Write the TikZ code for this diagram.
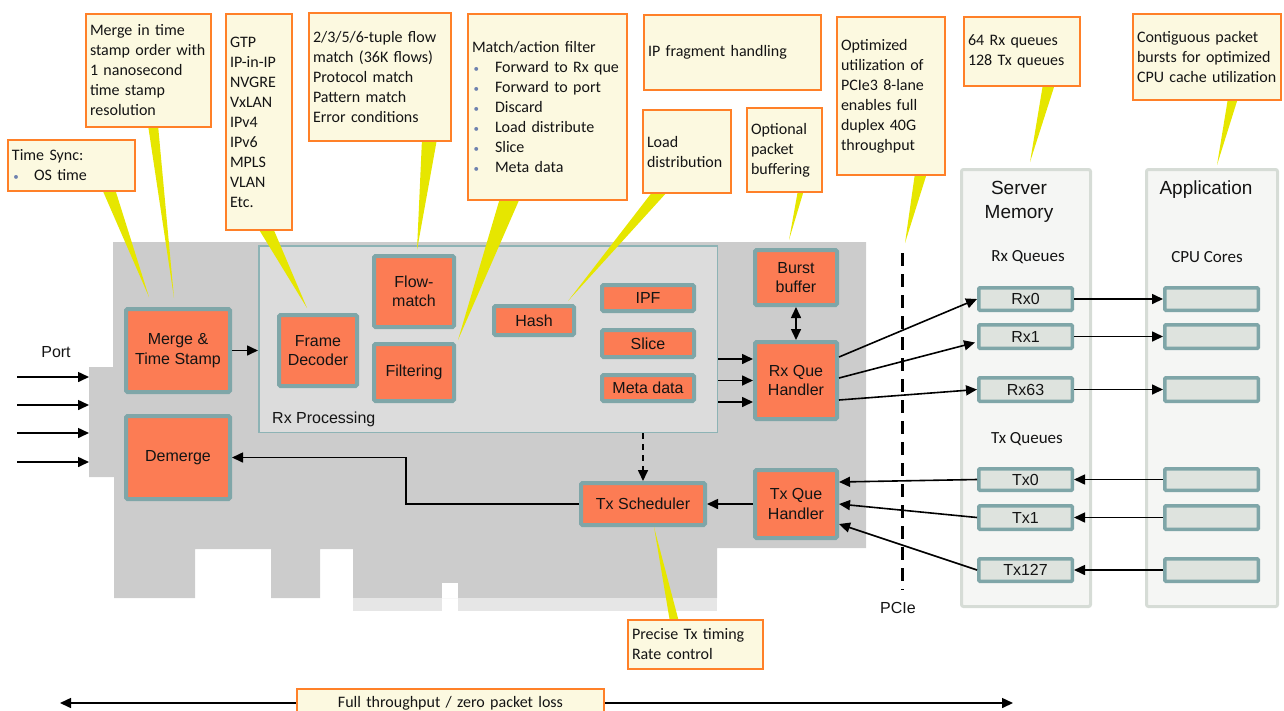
\documentclass[tikz,border=0pt]{standalone}
\usepackage{fontspec}
\setmainfont{Liberation Sans}
\newfontfamily\calfont{Carlito}
\usetikzlibrary{arrows.meta,calc}
\pgfdeclarelayer{bg}
\pgfdeclarelayer{mid}
\pgfsetlayers{bg,mid,main}
\definecolor{orng}{RGB}{252,124,84}
\definecolor{nodeb}{RGB}{127,166,168}
\definecolor{cardc}{RGB}{204,204,204}
\definecolor{stripc}{RGB}{230,230,230}
\definecolor{rxpf}{RGB}{220,220,220}
\definecolor{rxpb}{RGB}{141,179,181}
\definecolor{calf}{RGB}{252,249,224}
\definecolor{calb}{RGB}{255,128,40}
\definecolor{wdg}{RGB}{230,230,0}
\definecolor{colf}{RGB}{245,246,244}
\definecolor{colb}{RGB}{214,220,214}
\definecolor{quef}{RGB}{222,227,222}
\definecolor{bulc}{RGB}{110,130,175}
\definecolor{txt}{RGB}{20,20,20}
\newcommand\mybul[1][23pt]{\makebox[#1][l]{\hspace{1.5pt}\textcolor{bulc}{\fontsize{11}{20}\selectfont\textbullet}}}
\begin{document}
\begin{tikzpicture}[x=1pt,y=-1pt,
  every node/.style={text=txt},
  blk/.style={draw=nodeb,fill=orng,line width=4pt,rounded corners=1.5pt,align=center,inner sep=0pt,font=\fontsize{16}{19.5}\selectfont},
  rxp/.style={draw=rxpb,fill=rxpf,line width=1.5pt,inner sep=0pt},
  callout/.style={draw=calb,fill=calf,line width=2pt,inner xsep=4pt,inner ysep=0pt,align=left,font=\calfont\fontsize{16}{20}\selectfont},
  que/.style={draw=nodeb,fill=quef,line width=3.5pt,rounded corners=1pt,inner sep=0pt,minimum width=93.5pt,font=\fontsize{16}{19}\selectfont},
  col/.style={draw=colb,fill=colf,line width=3pt,rounded corners=2pt,inner sep=0pt},
  lbl/.style={inner sep=0pt,align=center,font=\fontsize{16}{19}\selectfont},
  hdr/.style={inner sep=0pt,align=center,font=\calfont\fontsize{17}{20}\selectfont},
  arr/.style={-{Triangle[length=11pt,width=10pt]},line width=1.6pt},
  darr/.style={{Triangle[length=11pt,width=10pt]}-{Triangle[length=11pt,width=10pt]},line width=1.6pt},
  wedge/.style={fill=wdg,draw=none},
]
\useasboundingbox (0,0) rectangle (1284,710);
\clip (0,0) rectangle (1284,710);

% ---------- card ----------
\begin{pgfonlayer}{bg}
\fill[cardc] (113,242) -- (866,242) -- (866,548) -- (717,548) -- (717,598) -- (353,598) -- (353,549) -- (320,549) -- (320,598) -- (271,598) -- (271,549) -- (195,549) -- (195,598) -- (114,598) -- (114,477) -- (89,477) -- (89,367) -- (113,367) -- cycle;
\fill[stripc] (353,598) rectangle (442,611);
\fill[stripc] (458,598) rectangle (717,611);
\fill[white] (442,583) rectangle (458,598);
\node[rxp,minimum width=458.5pt,minimum height=186.5pt] (rxproc) at (488,339) {};
\node[lbl,anchor=west] (rxplbl) at (272,419) {Rx Processing};
\end{pgfonlayer}

% ---------- columns ----------
\node[col,minimum width=129pt,minimum height=437pt] (smem) at (1026,388) {};
\node[col,minimum width=131pt,minimum height=437pt] (appc) at (1212,388) {};
\node[lbl,font=\fontsize{19}{24}\selectfont] (smemlbl) at (1019,201.5) {Server\\Memory};
\node[lbl,font=\fontsize{19}{24}\selectfont] (applbl) at (1206,190) {Application};
\node[hdr] (rxqlbl) at (1028,257) {Rx Queues};
\node[hdr] (cpulbl) at (1207,257) {CPU Cores};
\node[hdr] (txqlbl) at (1027,439) {Tx Queues};

% ---------- blocks ----------
\node[blk,minimum width=104pt,minimum height=83pt] (merge) at (178,350.5) {Merge \&\\Time Stamp};
\node[blk,minimum width=104pt,minimum height=83pt] (demerge) at (178,457.5) {Demerge};
\node[blk,minimum width=78pt,minimum height=71pt] (framedec) at (318,350.5) {Frame\\Decoder};
\node[blk,minimum width=80pt,minimum height=71pt] (flowmatch) at (414,291.5) {Flow-\\match};
\node[blk,minimum width=80pt,minimum height=57pt] (filtering) at (414,372.5) {Filtering};
\node[blk,minimum width=80pt,minimum height=29pt] (hash) at (534,320.5) {Hash};
\node[blk,minimum width=92pt,minimum height=26pt] (ipf) at (648,298) {IPF};
\node[blk,minimum width=92pt,minimum height=27pt] (slice) at (648,343.5) {Slice};
\node[blk,minimum width=92pt,minimum height=26pt] (meta) at (648,388) {Meta data};
\node[blk,minimum width=82pt,minimum height=55pt] (burst) at (796,277.5) {Burst\\buffer};
\node[blk,minimum width=82pt,minimum height=77pt] (rxque) at (796,380.5) {Rx Que\\Handler};
\node[blk,minimum width=124pt,minimum height=42pt] (txsched) at (643,504) {Tx Scheduler};
\node[blk,minimum width=82pt,minimum height=68pt] (txque) at (796,504) {Tx Que\\Handler};

% ---------- queues ----------
\node[que,minimum height=22.5pt] (rx0) at (1025.5,299) {Rx0};
\node[que,minimum height=23.5pt] (rx1) at (1025.5,336.5) {Rx1};
\node[que,minimum height=23.5pt] (rx63) at (1025.5,389.5) {Rx63};
\node[que,minimum height=21.5pt] (tx0) at (1025.5,479.5) {Tx0};
\node[que,minimum height=23.5pt] (tx1) at (1025.5,517.5) {Tx1};
\node[que,minimum height=22.5pt] (tx127) at (1025.5,570) {Tx127};
\node[que,minimum height=22.5pt] (c0) at (1211.5,299) {};
\node[que,minimum height=23.5pt] (c1) at (1211.5,336.5) {};
\node[que,minimum height=23.5pt] (c63) at (1211.5,389.5) {};
\node[que,minimum height=21.5pt] (d0) at (1211.5,479.5) {};
\node[que,minimum height=23.5pt] (d1) at (1211.5,517.5) {};
\node[que,minimum height=22.5pt] (d127) at (1211.5,570) {};

% ---------- port ----------
\node[lbl] (portlbl) at (56,352) {Port};
\foreach \i/\yy in {1/377,2/405,3/433,4/462}{
  \coordinate (ps\i) at (17,\yy);
  \coordinate (pe\i) at (89,\yy);
  \draw[arr] (ps\i) -- (pe\i);
}

% ---------- PCIe ----------
\coordinate (pcit) at (902,253);
\coordinate (pcib) at (902,590);
\draw[line width=3pt,dash pattern=on 13pt off 8pt] (pcit) -- (pcib);
\node[lbl] (pcilbl) at (898,608) {PCIe};

% ---------- connectors ----------
\draw[arr] (merge.east) -- (merge.east -| rxproc.west);
\draw[arr] ($(rxproc.east |- rxque.west)+(0,-21.5)$) -- ($(rxque.west)+(0,-21.5)$);
\draw[arr] (rxproc.east |- rxque.west) -- (rxque.west);
\draw[arr] ($(rxproc.east |- rxque.west)+(0,21.5)$) -- ($(rxque.west)+(0,21.5)$);
\draw[darr] (burst.south) -- (rxque.north);
\draw[arr,dash pattern=on 6pt off 5pt] (rxproc.south -| txsched.north) -- (txsched.north);
\draw[arr] (txque.west) -- (txsched.east);
\draw[arr] (txsched.west) -- ++(-173,0) |- (demerge.east);
\draw[arr] ($(rxque.east)+(0,-23.5)$) -- (rx0.west);
\draw[arr] ($(rxque.east)+(0,-2.5)$) -- ($(rx1.west)+(-2,6)$);
\draw[arr] ($(rxque.east)+(0,19.5)$) -- (rx63.west);
\draw[arr] (tx0.west) -- ($(txque.east)+(0,-22)$);
\draw[arr] (tx1.west) -- (txque.east);
\draw[arr] (tx127.west) -- ($(txque.east)+(0,20)$);
\draw[arr] (rx0.east) -- (c0.west);
\draw[arr] (rx1.east) -- (c1.west);
\draw[arr] (rx63.east) -- (c63.west);
\draw[arr] (d0.west) -- (tx0.east);
\draw[arr] (d1.west) -- (tx1.east);
\draw[arr] (d127.west) -- (tx127.east);

% ---------- callouts ----------
\node[callout,text width=119pt,minimum height=51pt] (timesync) at (71.5,165.5) {Time Sync:\\\mybul[22pt]OS time};
\node[callout,text width=117pt,minimum height=113pt] (mergecall) at (148.5,70.5) {\mbox{Merge in time}\\\mbox{stamp order with}\\\mbox{1 nanosecond}\\\mbox{time stamp}\\resolution};
\node[callout,text width=58pt,minimum height=216pt] (gtp) at (259,122) {GTP\\IP-in-IP\\NVGRE\\VxLAN\\IPv4\\IPv6\\MPLS\\VLAN\\Etc.};
\node[callout,text width=134pt,minimum height=128pt] (tuple) at (380,77) {\mbox{2/3/5/6-tuple flow}\\\mbox{match (36K flows)}\\\mbox{Protocol match}\\\mbox{Pattern match}\\\mbox{Error conditions}};
\node[callout,text width=151pt,minimum height=186pt] (match) at (547.5,107) {\mbox{Match/action filter}\\\mbox{\mybul Forward to Rx que}\\\mbox{\mybul Forward to port}\\\mbox{\mybul Discard}\\\mbox{\mybul Load distribute}\\\mbox{\mybul Slice}\\\mbox{\mybul Meta data}};
\node[callout,text width=169pt,minimum height=75pt] (ipfrag) at (732.5,52.5) {\mbox{IP fragment handling}};
\node[callout,text width=80pt,minimum height=83pt] (loaddist) at (687,151.5) {Load\\\mbox{distribution}};
\node[callout,text width=67pt,minimum height=84pt] (optbuf) at (784.5,150) {Optional\\packet\\\mbox{buffering}};
\node[callout,text width=100pt,minimum height=158pt] (optim) at (891,96) {Optimized\\\mbox{utilization of}\\\mbox{PCIe3 8-lane}\\\mbox{enables full}\\\mbox{duplex 40G}\\throughput};
\node[callout,text width=108pt,minimum height=69pt] (rxq64) at (1022,51.5) {\mbox{64 Rx queues}\\\mbox{128 Tx queues}};
\node[callout,text width=140pt,minimum height=86pt] (contig) at (1207,57) {\mbox{Contiguous packet}\\\mbox{bursts for optimized}\\\mbox{CPU cache utilization}};
\node[callout,text width=127pt,minimum height=49pt] (precise) at (695.5,644.5) {\mbox{Precise Tx timing}\\\mbox{Rate control}};

% ---------- wedges ----------
\begin{pgfonlayer}{mid}
\fill[wedge] ($(timesync.south west)+(95,-3)$) -- ($(timesync.south west)+(108,-3)$) -- (149,297) -- cycle;
\fill[wedge] ($(mergecall.south west)+(63,-3)$) -- ($(mergecall.south west)+(73,-3)$) -- (174,298) -- cycle;
\fill[wedge] ($(gtp.south west)+(33,-3)$) -- ($(gtp.south west)+(48,-3)$) -- (307,308) -- cycle;
\fill[wedge] ($(tuple.south west)+(114,-3)$) -- ($(tuple.south west)+(129,-3)$) -- (417,250) -- cycle;
\fill[wedge] ($(match.south west)+(33,-3)$) -- ($(match.south west)+(53,-3)$) -- (458,340) -- cycle;
\fill[wedge] ($(loaddist.south west)+(11,-3)$) -- ($(loaddist.south west)+(26,-3)$) -- (568,301) -- cycle;
\fill[wedge] ($(optbuf.south west)+(52,-3)$) -- ($(optbuf.south west)+(58,-3)$) -- (789,240) -- cycle;
\fill[wedge] ($(optim.south west)+(79,-3)$) -- ($(optim.south west)+(91,-3)$) -- (905,243) -- cycle;
\fill[wedge] ($(rxq64.south west)+(80,-3)$) -- ($(rxq64.south west)+(92,-3)$) -- (1030,162) -- cycle;
\fill[wedge] ($(contig.south west)+(96,-3)$) -- ($(contig.south west)+(106,-3)$) -- (1217,165) -- cycle;
\fill[wedge] ($(precise.north west)+(43,3)$) -- ($(precise.north west)+(52,3)$) -- ($(txsched.south)+(11,0)$) -- cycle;
\end{pgfonlayer}

% ---------- bottom ----------
\coordinate (ftl) at (60,703);
\coordinate (ftr) at (1013,703);
\draw[darr,line width=1.5pt] (ftl) -- (ftr);
\node[callout,align=center,text width=299pt,anchor=north,inner ysep=6pt,text height=12pt,text depth=20pt] (fullthru) at (450.5,688) {Full throughput / zero packet loss};
\end{tikzpicture}
\end{document}
